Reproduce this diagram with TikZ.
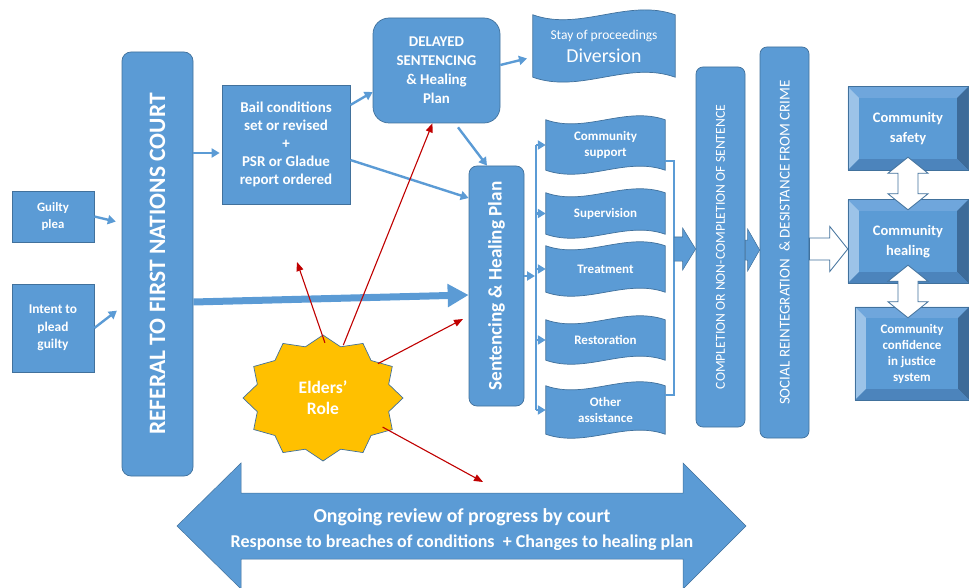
\documentclass[tikz,border=0pt]{standalone}
\usepackage{fontspec}
\setmainfont{Carlito}
\usepackage{graphicx}
\usetikzlibrary{arrows.meta,calc,shapes.geometric}

\definecolor{officeblue}{HTML}{5B9BD5}
\definecolor{edgeblue}{HTML}{41719C}
\definecolor{elderred}{HTML}{C00000}
\definecolor{elderyellow}{HTML}{FFC000}
\definecolor{bevtop}{HTML}{6FA6DC}
\definecolor{bevleft}{HTML}{9CC3E8}
\definecolor{bevright}{HTML}{3D6B99}
\definecolor{bevbottom}{HTML}{4C84BC}

\newcommand{\txt}[2]{\fontsize{#1}{#2}\selectfont}

\newcommand{\wavy}[2]{%
  \path[wave] (#1.north west) .. controls ($(#1.north west)!1/3!(#1.north east)+(0,#2)$) and ($(#1.north west)!2/3!(#1.north east)+(0,-#2)$) .. (#1.north east)
    -- (#1.south east) .. controls ($(#1.south west)!2/3!(#1.south east)+(0,-#2)$) and ($(#1.south west)!1/3!(#1.south east)+(0,#2)$) .. (#1.south west) -- cycle;}

\newcommand{\bevel}[1]{%
  \fill[bevtop] (#1.north west) -- (#1.north east) -- ($(#1.north east)+(-11,11)$) -- ($(#1.north west)+(11,11)$) -- cycle;
  \fill[bevleft] (#1.north west) -- ($(#1.north west)+(11,11)$) -- ($(#1.south west)+(11,-11)$) -- (#1.south west) -- cycle;
  \fill[bevright] (#1.north east) -- ($(#1.north east)+(-11,11)$) -- ($(#1.south east)+(-11,-11)$) -- (#1.south east) -- cycle;
  \fill[bevbottom] (#1.south west) -- ($(#1.south west)+(11,-11)$) -- ($(#1.south east)+(-11,-11)$) -- (#1.south east) -- cycle;
  \draw[edgeblue,line width=0.6pt] (#1.north west) rectangle (#1.south east);}

\newcommand{\blockarrow}[6]{%
  \path[#1] ($(#2)+(0,-#4)$) -- ($(#3)+(-#6,-#4)$) -- ($(#3)+(-#6,-#5)$) -- (#3) -- ($(#3)+(-#6,#5)$) -- ($(#3)+(-#6,#4)$) -- ($(#2)+(0,#4)$) -- cycle;}

\newcommand{\updown}[2]{%
  \path[hollow] (#1) -- ($(#1)+(20,16)$) -- ($(#1)+(10,16)$) -- ($(#2)+(10,-16)$) -- ($(#2)+(20,-16)$) -- (#2) -- ($(#2)+(-20,-16)$) -- ($(#2)+(-10,-16)$) -- ($(#1)+(-10,16)$) -- ($(#1)+(-20,16)$) -- cycle;}

\begin{document}
\begin{tikzpicture}[x=1pt,y=-1pt]
\tikzstyle{box} = [draw=edgeblue,fill=officeblue,line width=0.7pt,text=white,align=center,inner sep=0pt]
\tikzstyle{bar} = [box,rounded corners=9pt]
\tikzstyle{wavebox} = [align=center,text=white,inner sep=0pt,minimum width=119,font=\txt{13}{16.5}\bfseries]
\tikzstyle{wave} = [fill=officeblue,draw=edgeblue,line width=0.7pt]
\tikzstyle{bevelbox} = [fill=officeblue,text=white,align=center,inner sep=0pt,font=\txt{14.5}{20}\bfseries]
\tikzstyle{blockfill} = [fill=officeblue,draw=edgeblue,line width=0.5pt]
\tikzstyle{hollow} = [fill=white,draw=edgeblue,line width=0.8pt]
\tikzstyle{link} = [draw=officeblue,line width=2.4pt,-{Triangle[length=8pt,width=9pt]}]
\tikzstyle{linkline} = [draw=officeblue,line width=2.4pt]
\tikzstyle{elder} = [draw=elderred,line width=1.1pt,-{Triangle[length=9pt,width=7pt]}]

\pgfdeclarelayer{background}
\pgfsetlayers{background,main}

\useasboundingbox (0,0) rectangle (969,588);

\node[box,minimum width=82,minimum height=51,font=\txt{12.8}{17}\bfseries] (guilty) at (53,216.5) {Guilty\\plea};
\node[box,minimum width=82,minimum height=88,font=\txt{13.4}{17.5}\bfseries] (intent) at (53,328) {Intent to\\plead\\guilty};
\node[bar,minimum width=71,minimum height=424,font=\txt{23.5}{26}\bfseries] (court) at (157.5,264) {\rotatebox{90}{REFERAL TO FIRST NATIONS COURT}};
\node[box,minimum width=128,minimum height=119,font=\txt{15}{18}\bfseries] (bail) at (286,144.5) {Bail conditions\\set or revised\\+\\PSR or Gladue\\report ordered};
\node[bar,rounded corners=16pt,minimum width=127,minimum height=105,font=\txt{14.9}{19}\bfseries] (delayed) at (436.5,70.5) {DELAYED\\SENTENCING\\\& Healing\\Plan};
\node[wavebox,minimum width=142,minimum height=62,font=\txt{19.8}{23}] (stay) at (604,46) {{\txt{13.5}{14}Stay of proceedings}\\Diversion};
\node[bar,rounded corners=8pt,minimum width=55,minimum height=240,font=\txt{19.2}{22}\bfseries] (plan) at (496.5,286) {\rotatebox{90}{Sentencing \& Healing Plan}};

\node[wavebox,minimum height=50] (support) at (605.5,145) {Community\\support};
\node[wavebox,minimum height=41] (supervision) at (605.5,213.5) {Supervision};
\node[wavebox,minimum height=46] (treatment) at (605.5,269) {Treatment};
\node[wavebox,minimum height=40] (restoration) at (605.5,340) {Restoration};
\node[wavebox,minimum height=48] (other) at (605.5,410) {Other\\assistance};

\node[bar,rounded corners=7pt,minimum width=49,minimum height=360,font=\txt{13.7}{15}] (completion) at (720.5,247) {\rotatebox{90}{COMPLETION OR NON-COMPLETION OF SENTENCE}};
\node[bar,rounded corners=7pt,minimum width=49,minimum height=391,font=\txt{15}{16}] (social) at (784.5,242.5) {\rotatebox{90}{SOCIAL REINTEGRATION \ \& DESISTANCE FROM CRIME}};

\node[bevelbox,minimum width=120,minimum height=83] (safety) at (908,128.5) {Community\\safety};
\node[bevelbox,minimum width=120,minimum height=83] (healing) at (908,241.5) {Community\\healing};
\node[bevelbox,minimum width=114,minimum height=93,font=\txt{13}{16}\bfseries] (confidence) at (912,353.5) {Community\\confidence\\in justice\\system};
\bevel{safety}
\bevel{healing}
\bevel{confidence}

\node[ellipse,minimum width=140,minimum height=110,inner sep=0pt,align=center,text=white,font=\txt{17.5}{21}\bfseries] (elders) at (323,398) {Elders’\\Role};
\node[align=center,text=white,inner sep=0pt,font=\txt{19.8}{25}\bfseries] (review) at (462,530) {Ongoing review of progress by court\\{\txt{18}{18}\bfseries Response to breaches of conditions \ + Changes to healing plan}};

\begin{pgfonlayer}{background}
\wavy{stay}{17}
\wavy{support}{14}
\wavy{supervision}{14}
\wavy{treatment}{14}
\wavy{restoration}{14}
\wavy{other}{14}
\path[draw=edgeblue,fill=elderyellow,line width=0.7pt] ($(elders)+(90:80 and 63)$) \foreach \a in {0,30,...,330} { -- ($(elders)+(\a+105:68 and 53)$) -- ($(elders)+(\a+120:80 and 63)$)} -- cycle;
\begin{scope}
\clip (0,0) rectangle (969,588);
\path[blockfill] (177,526) -- (241,463) -- (241,493) -- (683,493) -- (683,463) -- (746,526) -- (683,589) -- (683,559) -- (241,559) -- (241,589) -- cycle;
\end{scope}
\end{pgfonlayer}

\draw[link,shorten >=6pt] (guilty.east) -- (court.west |- 0,223);
\draw[link,shorten >=6pt] (intent.east) -- (court.west |- 0,307);
\draw[link,shorten >=2pt] (court.east |- 0,153) -- (bail.west |- 0,153);
\draw[link] (bail.east |- 0,105) -- (delayed.west |- 0,92);
\draw[link] (bail.east |- 0,160) -- (plan.west |- 0,198);
\draw[link,shorten >=6pt] (delayed.east |- 0,65) -- (stay.west |- 0,57);
\draw[link,shorten <=5pt] (delayed.south -| 455,0) -- (plan.north -| 487,0);
\draw[link,line width=7pt,-{Triangle[length=21pt,width=22pt]}] (court.east |- 0,302) -- (plan.west |- 0,295);

\coordinate (split) at (536,276);
\draw[link,shorten >=1pt] (plan.east |- split) -- (split);
\draw[linkline] (split |- support.west) -- (split |- other.west);
\foreach \w in {support,supervision,treatment,restoration,other}
  \draw[link] (split |- \w.west) -- (\w.west);

\coordinate (join) at (674,249);
\draw[linkline] ([yshift=-16pt]support.east) -| (join) |- ([yshift=15pt]other.east);
\coordinate (c1) at (join -| completion.west);
\blockarrow{blockfill}{join}{c1}{12}{21}{13}
\coordinate (c2) at (completion.east |- 0,250);
\coordinate (c3) at (social.west |- 0,250);
\blockarrow{blockfill}{c2}{c3}{10}{21}{12}
\coordinate (c4) at (social.east |- 0,249);
\coordinate (c5) at (healing.west |- 0,249);
\blockarrow{hollow}{c4}{c5}{11}{22.5}{18}

\coordinate (u1) at ($(safety.south)+(0,-13)$);
\coordinate (d1) at ($(healing.north)+(0,10)$);
\updown{u1}{d1}
\coordinate (u2) at ($(healing.south)+(0,-18)$);
\coordinate (d2) at ($(healing.south |- confidence.north)+(0,11)$);
\updown{u2}{d2}

\coordinate (elderA) at (297,262);
\coordinate (elderC) at (463,319);
\coordinate (elderD) at (483,482);
\draw[elder] (elders.88) -- (elderA);
\draw[elder] (elders.69) -- ([xshift=-4pt]delayed.south);
\draw[elder] (elders.32) -- (elderC);
\draw[elder] (elders.-26) -- (elderD);
\end{tikzpicture}
\end{document}
